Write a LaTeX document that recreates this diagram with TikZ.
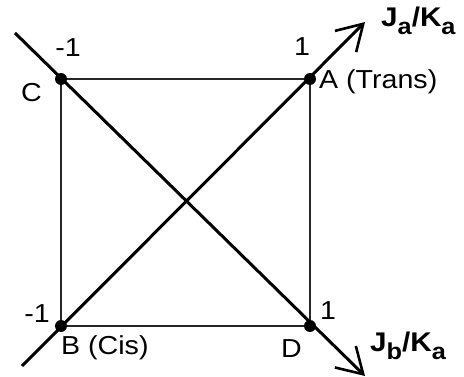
\documentclass[tikz,border=0pt]{standalone}
\usepackage{fontspec}
\setmainfont{Liberation Sans}[FakeStretch=1.1]
\usetikzlibrary{arrows.meta}
\newcommand{\lblfont}{\fontsize{26}{26}\selectfont}
\newcommand{\jkfont}{\fontsize{27}{27}\selectfont\bfseries}
\newcommand{\subsc}[1]{\raisebox{-8pt}{\fontsize{23}{23}\selectfont\bfseries #1}}
\begin{document}
\begin{tikzpicture}[x=1pt,y=-1pt,
  dot/.style={circle,fill=black,inner sep=0pt,minimum size=12pt},
  axisline/.style={line width=3pt,-{Straight Barb[length=25pt,width=30pt,line width=2.6pt]}},
  edgeline/.style={line width=1.4pt,black!85},
  lab/.style={font=\lblfont,inner sep=0pt},
  jk/.style={font=\jkfont,inner sep=0pt}]
\useasboundingbox (0,0) rectangle (464,377);
% corner points
\coordinate (A) at (310,79);
\coordinate (B) at (61,326);
\coordinate (C) at (61,79);
\coordinate (D) at (310,326);
\coordinate (s1) at (22,366);
\coordinate (e1) at (365,22);
\coordinate (s2) at (15,33);
\coordinate (e2) at (365,376);
% square
\draw[edgeline] (C) -- (A) -- (D) -- (B) -- cycle;
% axes
\draw[axisline] (s1) -- (e1);
\draw[axisline] (s2) -- (e2);
% dots
\node[dot] (dA) at (A) {};
\node[dot] (dB) at (B) {};
\node[dot] (dC) at (C) {};
\node[dot] (dD) at (D) {};
% labels
\node[lab] (nC1) at (68,48) {-1};
\node[lab,anchor=base west] (lC) at (21,102) {C};
\node[lab] (nA1) at (302,47) {1};
\node[lab,anchor=base west] (lA) at (319,89) {A (Trans)};
\node[lab] (nB1) at (37,314) {-1};
\node[lab] (nD1) at (328,311) {1};
\node[lab,anchor=base west] (lB) at (61,355) {B (Cis)};
\node[lab,anchor=base west] (lD) at (281,358) {D};
\node[jk,anchor=base west] (ja) at (381,27) {J\subsc{a}/K\subsc{a}};
\node[jk,anchor=base west] (jb) at (370,352) {J\subsc{b}/K\subsc{a}};
\end{tikzpicture}
\end{document}
